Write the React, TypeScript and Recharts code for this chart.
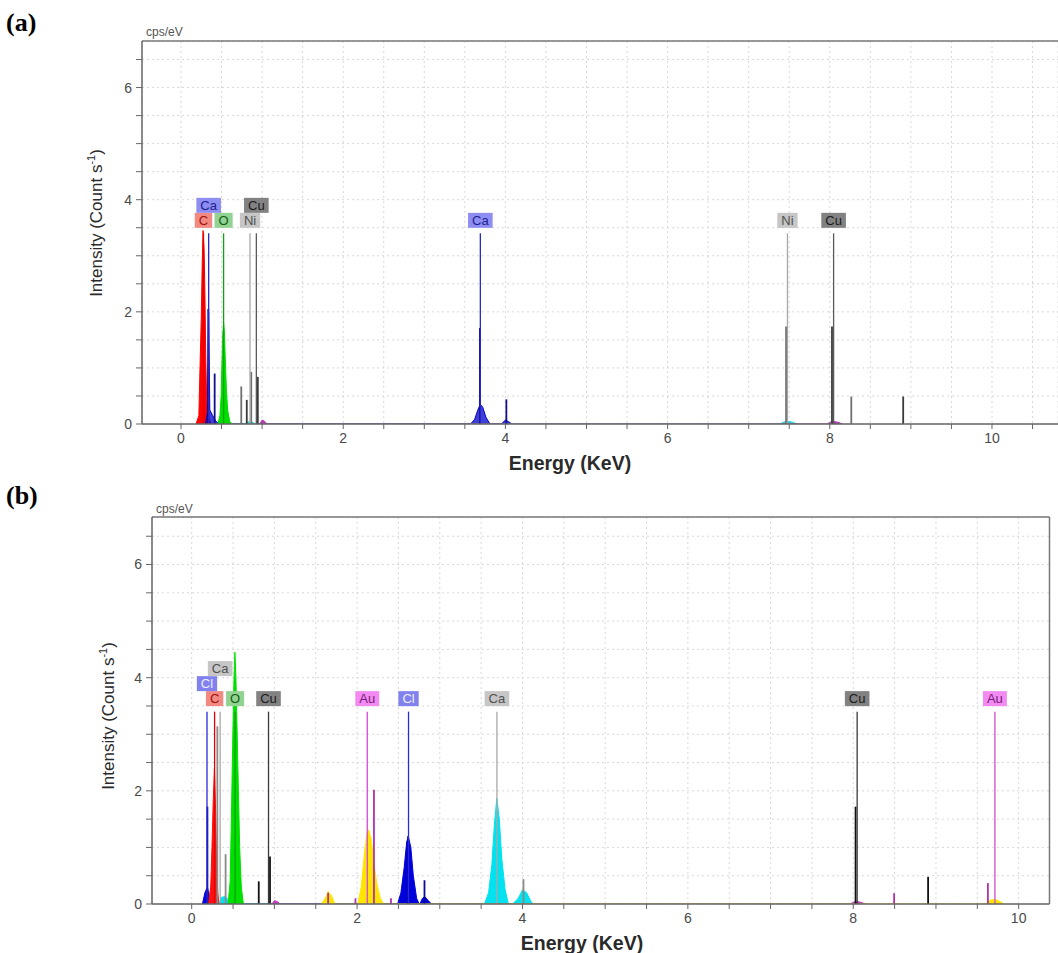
import React from "react";
import {
  ComposedChart,
  Area,
  XAxis,
  YAxis,
  CartesianGrid,
  ReferenceLine,
  ReferenceDot,
} from "recharts";

type Pt = [number, number];

// ---------- panel (a) ----------
// labelled element lines (full height): [element, energy KeV]
const aLabels: [string, number][] = [
  ["C", 0.277],
  ["O", 0.525],
  ["Ca", 0.341],
  ["Ca", 3.691],
  ["Ni", 0.851],
  ["Ni", 7.478],
  ["Cu", 0.929],
  ["Cu", 8.047],
];
// other element lines: [element, energy KeV, height]
const aLines: [string, number, number][] = [
  ["Ca", 0.336, 2.05],
  ["Ca", 0.415, 0.9],
  ["Ca", 3.686, 1.71],
  ["Ca", 4.012, 0.44],
  ["Ni", 0.743, 0.67],
  ["Ni", 0.866, 0.93],
  ["Ni", 7.461, 1.74],
  ["Ni", 8.265, 0.49],
  ["Cu", 0.811, 0.43],
  ["Cu", 0.947, 0.84],
  ["Cu", 8.027, 1.74],
  ["Cu", 8.905, 0.49],
];
// measured spectrum, coloured by element: [energy, cps/eV]
const aFillC: Pt[] = [
  [0.185, 0], [0.22, 0.15], [0.235, 1.05], [0.25, 1.9], [0.262, 2.9], [0.272, 3.45],
  [0.285, 3.1], [0.295, 2.3], [0.305, 1.2], [0.315, 0.5], [0.33, 0.15], [0.37, 0],
];
const aFillCa: Pt[] = [
  [0.3, 0], [0.325, 0.2], [0.34, 2.0], [0.355, 0.25], [0.39, 0.15], [0.43, 0.05], [0.47, 0],
  [3.57, 0], [3.62, 0.08], [3.66, 0.25], [3.69, 0.35], [3.72, 0.3], [3.76, 0.12], [3.81, 0],
  [3.95, 0], [4.0, 0.07], [4.04, 0.04], [4.08, 0],
];
const aFillO: Pt[] = [
  [0.455, 0], [0.48, 0.15], [0.495, 0.5], [0.505, 1.1], [0.515, 1.6], [0.525, 1.8],
  [0.535, 1.65], [0.545, 1.2], [0.56, 0.6], [0.575, 0.25], [0.6, 0.05], [0.63, 0],
];
const aFillNi: Pt[] = [
  [0.78, 0], [0.83, 0.04], [0.88, 0.03], [0.92, 0],
  [7.38, 0], [7.46, 0.05], [7.52, 0.04], [7.6, 0],
];
const aFillCu: Pt[] = [
  [0.97, 0], [1.0, 0.07], [1.03, 0.05], [1.06, 0],
  [7.96, 0], [8.04, 0.05], [8.1, 0.03], [8.16, 0],
];
const aXTicks = [0, 0.5, 1, 1.5, 2, 2.5, 3, 3.5, 4, 4.5, 5, 5.5, 6, 6.5, 7, 7.5, 8, 8.5, 9, 9.5, 10, 10.5];

// ---------- panel (b) ----------
const bLabels: [string, number][] = [
  ["C", 0.277],
  ["O", 0.525],
  ["Cl", 0.185],
  ["Cl", 2.622],
  ["Ca", 0.344],
  ["Ca", 3.691],
  ["Cu", 0.929],
  ["Cu", 8.047],
  ["Au", 2.123],
  ["Au", 9.713],
];
const bLines: [string, number, number][] = [
  ["Cl", 0.19, 1.72],
  ["Cl", 2.617, 1.2],
  ["Cl", 2.815, 0.42],
  ["Ca", 0.31, 3.14],
  ["Ca", 0.41, 0.88],
  ["Ca", 4.012, 0.44],
  ["Cu", 0.811, 0.4],
  ["Cu", 0.947, 0.84],
  ["Cu", 8.028, 1.72],
  ["Cu", 8.905, 0.48],
  ["Au", 1.65, 0.2],
  ["Au", 1.98, 0.1],
  ["Au", 2.204, 2.02],
  ["Au", 2.41, 0.1],
  ["Au", 8.494, 0.19],
  ["Au", 9.628, 0.37],
];
const bFillCl: Pt[] = [
  [0.13, 0], [0.16, 0.2], [0.19, 0.3], [0.21, 0.15], [0.24, 0],
  [2.49, 0], [2.53, 0.2], [2.57, 0.65], [2.6, 1.1], [2.62, 1.19], [2.65, 1.0], [2.68, 0.5], [2.72, 0.1], [2.75, 0],
  [2.76, 0], [2.79, 0.1], [2.82, 0.13], [2.86, 0.06], [2.9, 0],
];
const bFillC: Pt[] = [
  [0.2, 0], [0.23, 0.3], [0.245, 1.0], [0.26, 1.8], [0.275, 2.4], [0.29, 1.6], [0.3, 0.8], [0.315, 0.2], [0.33, 0],
];
const bFillCa: Pt[] = [
  [0.33, 0], [0.36, 0.12], [0.41, 0.13], [0.45, 0.05], [0.47, 0],
  [3.54, 0], [3.59, 0.2], [3.63, 0.7], [3.66, 1.4], [3.69, 1.87], [3.72, 1.5], [3.75, 0.8], [3.79, 0.25], [3.83, 0],
  [3.88, 0], [3.95, 0.1], [4.0, 0.25], [4.05, 0.2], [4.1, 0.05], [4.13, 0],
];
const bFillO: Pt[] = [
  [0.44, 0], [0.465, 0.4], [0.48, 1.5], [0.495, 2.8], [0.51, 3.9], [0.522, 4.45], [0.535, 4.0],
  [0.55, 3.0], [0.565, 2.0], [0.58, 1.0], [0.6, 0.3], [0.625, 0],
];
const bFillCu: Pt[] = [
  [0.97, 0], [1.0, 0.06], [1.04, 0.04], [1.07, 0],
  [7.96, 0], [8.03, 0.05], [8.09, 0.03], [8.15, 0],
];
const bFillAu: Pt[] = [
  [1.57, 0], [1.62, 0.12], [1.65, 0.22], [1.69, 0.15], [1.73, 0],
  [2.01, 0], [2.05, 0.3], [2.09, 0.9], [2.12, 1.25], [2.14, 1.31], [2.17, 1.15], [2.2, 0.75], [2.24, 0.35], [2.28, 0.1], [2.32, 0],
  [9.6, 0], [9.66, 0.07], [9.72, 0.08], [9.78, 0.04], [9.82, 0],
];
const bXTicks = [0, 0.5, 1, 1.5, 2, 2.5, 3, 3.5, 4, 4.5, 5, 5.5, 6, 6.5, 7, 7.5, 8, 8.5, 9, 9.5, 10];

const yTicks = [0, 0.5, 1, 1.5, 2, 2.5, 3, 3.5, 4, 4.5, 5, 5.5, 6, 6.5];
const MARKER_H = 3.4;

type Sty = { line: string; dark: string; fill: string; box: string; text: string; op?: number };

const aStyle: Record<string, Sty> = {
  C: { line: "#e00000", dark: "#c00000", fill: "#ff0000", box: "#f28a82", text: "#a01010" },
  O: { line: "#10a010", dark: "#0a800a", fill: "#00dd00", box: "#92d292", text: "#106010" },
  Ca: { line: "#2828c8", dark: "#10108a", fill: "#0000cc", box: "#8e8ef2", text: "#202090", op: 0.75 },
  Ni: { line: "#a8a8a8", dark: "#707070", fill: "#30d0d8", box: "#c6c6c6", text: "#505050" },
  Cu: { line: "#5a5a5a", dark: "#3a3a3a", fill: "#b040b0", box: "#828282", text: "#1a1a1a" },
};
const bStyle: Record<string, Sty> = {
  C: { line: "#e00000", dark: "#c00000", fill: "#ff1010", box: "#f28a82", text: "#a01010" },
  O: { line: "#10a010", dark: "#0a800a", fill: "#00e000", box: "#92d292", text: "#106010" },
  Cl: { line: "#2a2ad8", dark: "#0a0a9a", fill: "#0000dd", box: "#8282ee", text: "#eeeeff" },
  Ca: { line: "#a8a8a8", dark: "#8a8a8a", fill: "#00e2f0", box: "#c6c6c6", text: "#505050" },
  Cu: { line: "#3a3a3a", dark: "#111111", fill: "#c040c0", box: "#828282", text: "#1a1a1a" },
  Au: { line: "#d448d4", dark: "#b030b0", fill: "#ffe600", box: "#f28af2", text: "#7a1a7a" },
};

const FONT = "'Liberation Sans', Arial, sans-serif";
const SERIF = "'Liberation Serif', 'Times New Roman', serif";
const CHAR_W: Record<string, number> = { C: 9.4, O: 10.1, N: 9.4, A: 8.7, a: 7.2, u: 7.2, i: 2.9, l: 2.9 };
const boxWidth = (s: string) => s.split("").reduce((w, c) => w + (CHAR_W[c] || 7.2), 0) + 8;

// stagger label boxes the way the EDX software does: first free row wins
function assignRows(labels: [string, number][], pxPerKeV: number) {
  const placed: { e: number; w: number; row: number }[] = [];
  return labels.map(([el, e]) => {
    const w = boxWidth(el);
    let row = 0;
    while (placed.some((p) => p.row === row && Math.abs(p.e - e) * pxPerKeV < (p.w + w) / 2)) row++;
    placed.push({ e, w, row });
    return row;
  });
}

type PanelProps = {
  width: number;
  height: number;
  top: number;
  right: number;
  yAxisWidth: number;
  xAxisHeight: number;
  xDomain: [number, number];
  yMax: number;
  xTicks: number[];
  labels: [string, number][];
  lines: [string, number, number][];
  fills: [string, Pt[]][];
  style: Record<string, Sty>;
  rightBorder?: boolean;
};

function Spectrum(p: PanelProps) {
  const plotW = p.width - p.yAxisWidth - p.right;
  const pxPerKeV = plotW / (p.xDomain[1] - p.xDomain[0]);
  const rows = assignRows(p.labels, pxPerKeV);
  const tick = { fill: "#4a4a4a", fontSize: 14, fontFamily: FONT };

  return (
    <ComposedChart width={p.width} height={p.height} margin={{ top: p.top, right: p.right, bottom: 0, left: 0 }}>
      <CartesianGrid stroke="#d8d8d8" strokeDasharray="2 3" />
      <XAxis
        type="number"
        dataKey="x"
        domain={p.xDomain}
        allowDataOverflow
        ticks={p.xTicks}
        interval={0}
        tickFormatter={(v: number) => (v % 2 === 0 ? String(v) : "")}
        height={p.xAxisHeight}
        tickSize={5}
        tickMargin={4}
        tick={tick}
        stroke="#666"
        axisLine={{ stroke: "#666", strokeWidth: 1.5 }}
      />
      <YAxis
        type="number"
        domain={[0, p.yMax]}
        allowDataOverflow
        ticks={yTicks}
        interval={0}
        tickFormatter={(v: number) => (v % 2 === 0 ? String(v) : "")}
        width={p.yAxisWidth}
        tickSize={6}
        tickMargin={4}
        tick={tick}
        stroke="#666"
        axisLine={{ stroke: "#666", strokeWidth: 1.5 }}
      />
      {p.fills.map(([el, pts]) => {
        const s = p.style[el];
        return (
          <Area
            key={"f" + el}
            data={pts.map(([x, y]) => ({ x, y }))}
            dataKey="y"
            type="linear"
            fill={s.fill}
            fillOpacity={s.op ?? 1}
            stroke={s.fill}
            strokeWidth={1}
            dot={false}
            activeDot={false}
            isAnimationActive={false}
          />
        );
      })}
      {p.lines.map(([el, e, h], i) => (
        <ReferenceLine
          key={"l" + i}
          segment={[{ x: e, y: 0 }, { x: e, y: h }]}
          stroke={p.style[el].dark}
          strokeWidth={1.8}
        />
      ))}
      {p.labels.map(([el, e], i) => (
        <ReferenceLine
          key={"m" + i}
          segment={[{ x: e, y: 0 }, { x: e, y: MARKER_H }]}
          stroke={p.style[el].line}
          strokeWidth={1.3}
        />
      ))}
      {p.labels.map(([el, e], i) => {
        const s = p.style[el];
        const w = boxWidth(el);
        const row = rows[i];
        return (
          <ReferenceDot
            key={"b" + i}
            x={e}
            y={MARKER_H}
            r={1}
            ifOverflow="visible"
            shape={(props: any) => {
              const cy = props.cy - 13 - row * 15;
              return (
                <g>
                  <rect x={props.cx - w / 2} y={cy - 7.5} width={w} height={15} fill={s.box} />
                  <text
                    x={props.cx}
                    y={cy + 4.6}
                    textAnchor="middle"
                    fontSize={13}
                    fontFamily={FONT}
                    fill={s.text}
                  >
                    {el}
                  </text>
                </g>
              );
            }}
          />
        );
      })}
      <ReferenceLine y={p.yMax} stroke="#777" strokeWidth={1.5} ifOverflow="visible" />
      {p.rightBorder && <ReferenceLine x={p.xDomain[1]} stroke="#777" strokeWidth={1.5} ifOverflow="visible" />}
    </ComposedChart>
  );
}

export default function App() {
  const aFills: [string, Pt[]][] = [
    ["C", aFillC],
    ["Ca", aFillCa],
    ["O", aFillO],
    ["Ni", aFillNi],
    ["Cu", aFillCu],
  ];
  const bFills: [string, Pt[]][] = [
    ["Cl", bFillCl],
    ["C", bFillC],
    ["Ca", bFillCa],
    ["O", bFillO],
    ["Cu", bFillCu],
    ["Au", bFillAu],
  ];

  return (
    <div style={{ position: "absolute", left: 0, top: 0, width: 1058, height: 953, background: "#fff", overflow: "hidden" }}>
      <div style={{ position: "absolute", left: 0, top: 0 }}>
        <Spectrum
          width={1058}
          height={480}
          top={41}
          right={0}
          yAxisWidth={142}
          xAxisHeight={56}
          xDomain={[-0.481, 10.814]}
          yMax={6.83}
          xTicks={aXTicks}
          labels={aLabels}
          lines={aLines}
          fills={aFills}
          style={aStyle}
        />
      </div>
      <div style={{ position: "absolute", left: 0, top: 490 }}>
        <Spectrum
          width={1058}
          height={463}
          top={27}
          right={8.5}
          yAxisWidth={152}
          xAxisHeight={49}
          xDomain={[-0.48, 10.373]}
          yMax={6.84}
          xTicks={bXTicks}
          labels={bLabels}
          lines={bLines}
          fills={bFills}
          style={bStyle}
          rightBorder
        />
      </div>
      <svg
        width={1058}
        height={953}
        style={{ position: "absolute", left: 0, top: 0, pointerEvents: "none" }}
      >
        <text x={6} y={31} fontFamily={SERIF} fontWeight="bold" fontSize={26}>
          (a)
        </text>
        <text x={6} y={504} fontFamily={SERIF} fontWeight="bold" fontSize={26}>
          (b)
        </text>
        <text x={146} y={36} fontFamily={FONT} fontSize={12} fill="#555">
          cps/eV
        </text>
        <text x={156} y={513} fontFamily={FONT} fontSize={12} fill="#555">
          cps/eV
        </text>
        <text
          transform="translate(102,223) rotate(-90)"
          textAnchor="middle"
          fontFamily={FONT}
          fontSize={17}
          fill="#2a2a2a"
        >
          Intensity (Count s<tspan dy={-7} fontSize={11}>-1</tspan>
          <tspan dy={7}>)</tspan>
        </text>
        <text
          transform="translate(114,716) rotate(-90)"
          textAnchor="middle"
          fontFamily={FONT}
          fontSize={17}
          fill="#2a2a2a"
        >
          Intensity (Count s<tspan dy={-7} fontSize={11}>-1</tspan>
          <tspan dy={7}>)</tspan>
        </text>
        <text x={570} y={470} textAnchor="middle" fontFamily={FONT} fontWeight="bold" fontSize={19.5} fill="#2a2a2a">
          Energy (KeV)
        </text>
        <text x={582} y={950} textAnchor="middle" fontFamily={FONT} fontWeight="bold" fontSize={19.5} fill="#2a2a2a">
          Energy (KeV)
        </text>
      </svg>
    </div>
  );
}
